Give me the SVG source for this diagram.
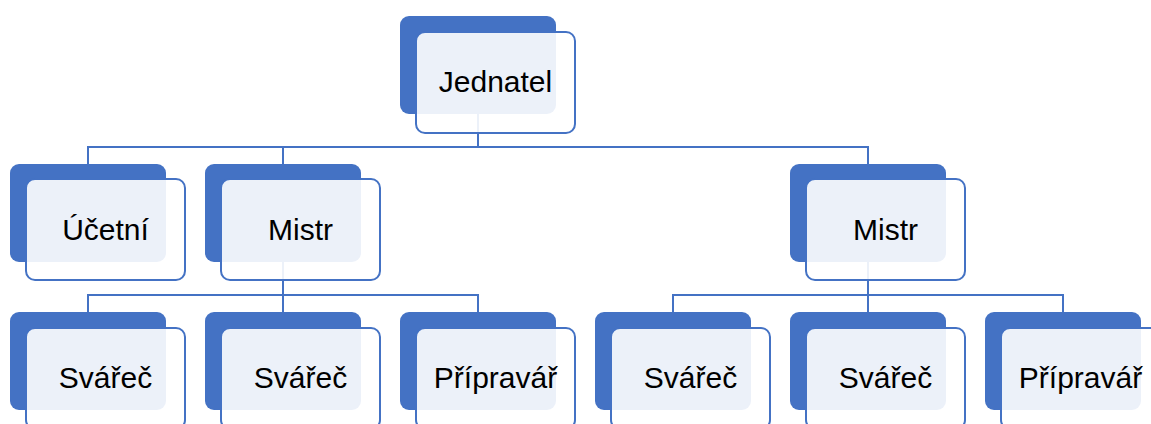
<svg xmlns="http://www.w3.org/2000/svg" width="1151" height="424" viewBox="0 0 1151 424">
<style>
.bg{fill:#FFFFFF}
.dark{fill:#4472C4}
.light{fill:#FFFFFF;fill-opacity:0.9;stroke:#4472C4;stroke-width:2}
.lbl{font-family:"Liberation Sans",Arial,sans-serif;font-size:30px;fill:#000000;text-anchor:middle}
.conn{fill:none;stroke:#4472C4;stroke-width:2}
</style>
<rect class="bg" x="0" y="0" width="1151" height="424"/>
<g id="connectors">
<path class="conn" d="M478 114 V147 M88 164 V147 H868 V164 M283 147 V164"/>
<path class="conn" d="M283 262 V295 M88 312 V295 H478 V312 M283 295 V312"/>
<path class="conn" d="M868 262 V295 M673 312 V295 H1063 V312 M868 295 V312"/>
</g>
<g id="node-jednatel">
<rect class="dark" x="400" y="16" width="156" height="98" rx="9"/>
<rect class="light" x="416" y="32" width="159" height="101" rx="9"/>
<text class="lbl" x="495.5" y="92">Jednatel</text>
</g>
<g id="node-ucetni">
<rect class="dark" x="10" y="164" width="156" height="98" rx="9"/>
<rect class="light" x="26" y="179" width="159" height="101" rx="9"/>
<text class="lbl" x="105.5" y="240">Účetní</text>
</g>
<g id="node-mistr-1">
<rect class="dark" x="205" y="164" width="156" height="98" rx="9"/>
<rect class="light" x="221" y="179" width="159" height="101" rx="9"/>
<text class="lbl" x="300.5" y="240">Mistr</text>
</g>
<g id="node-mistr-2">
<rect class="dark" x="790" y="164" width="156" height="98" rx="9"/>
<rect class="light" x="806" y="179" width="159" height="101" rx="9"/>
<text class="lbl" x="885.5" y="240">Mistr</text>
</g>
<g id="node-svarec-1">
<rect class="dark" x="10" y="312" width="156" height="98" rx="9"/>
<rect class="light" x="26" y="328" width="159" height="101" rx="9"/>
<text class="lbl" x="105.5" y="388">Svářeč</text>
</g>
<g id="node-svarec-2">
<rect class="dark" x="205" y="312" width="156" height="98" rx="9"/>
<rect class="light" x="221" y="328" width="159" height="101" rx="9"/>
<text class="lbl" x="300.5" y="388">Svářeč</text>
</g>
<g id="node-pripravar-1">
<rect class="dark" x="400" y="312" width="156" height="98" rx="9"/>
<rect class="light" x="416" y="328" width="159" height="101" rx="9"/>
<text class="lbl" x="495.5" y="388">Přípravář</text>
</g>
<g id="node-svarec-3">
<rect class="dark" x="595" y="312" width="156" height="98" rx="9"/>
<rect class="light" x="611" y="328" width="159" height="101" rx="9"/>
<text class="lbl" x="690.5" y="388">Svářeč</text>
</g>
<g id="node-svarec-4">
<rect class="dark" x="790" y="312" width="156" height="98" rx="9"/>
<rect class="light" x="806" y="328" width="159" height="101" rx="9"/>
<text class="lbl" x="885.5" y="388">Svářeč</text>
</g>
<g id="node-pripravar-2">
<rect class="dark" x="985" y="312" width="156" height="98" rx="9"/>
<rect class="light" x="1001" y="328" width="159" height="101" rx="9"/>
<text class="lbl" x="1080.5" y="388">Přípravář</text>
</g>
</svg>
